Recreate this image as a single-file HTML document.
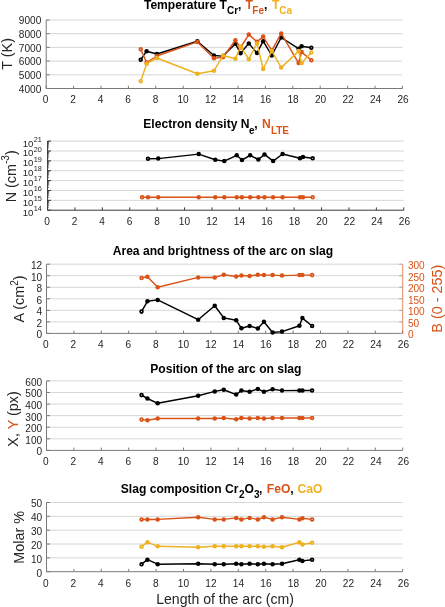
<!DOCTYPE html>
<html><head><meta charset="utf-8"><style>
html,body{margin:0;padding:0;background:#fff;}
body{width:445px;height:607px;overflow:hidden;}
svg{display:block;font-family:'Liberation Sans', sans-serif;will-change:transform;}
</style></head><body>
<svg width="445" height="607" viewBox="0 0 445 607">
<defs><filter id="bl" x="0" y="0" width="100%" height="100%"><feGaussianBlur stdDeviation="0.35"/></filter></defs>
<g filter="url(#bl)">
<rect x="0" y="0" width="445" height="607" fill="#fff"/>
<line x1="46.2" y1="20" x2="402.4" y2="20" stroke="#d6d6d6" stroke-width="1"/>
<line x1="46.2" y1="33.7" x2="402.4" y2="33.7" stroke="#d6d6d6" stroke-width="1"/>
<line x1="46.2" y1="47.4" x2="402.4" y2="47.4" stroke="#d6d6d6" stroke-width="1"/>
<line x1="46.2" y1="61.1" x2="402.4" y2="61.1" stroke="#d6d6d6" stroke-width="1"/>
<line x1="46.2" y1="74.8" x2="402.4" y2="74.8" stroke="#d6d6d6" stroke-width="1"/>
<path d="M46.2 20 L46.2 88.5 L402.4 88.5" fill="none" stroke="#7a7a7a" stroke-width="1"/>
<line x1="46.2" y1="88.5" x2="46.2" y2="85.7" stroke="#7a7a7a" stroke-width="1"/>
<line x1="73.6" y1="88.5" x2="73.6" y2="85.7" stroke="#7a7a7a" stroke-width="1"/>
<line x1="101" y1="88.5" x2="101" y2="85.7" stroke="#7a7a7a" stroke-width="1"/>
<line x1="128.4" y1="88.5" x2="128.4" y2="85.7" stroke="#7a7a7a" stroke-width="1"/>
<line x1="155.8" y1="88.5" x2="155.8" y2="85.7" stroke="#7a7a7a" stroke-width="1"/>
<line x1="183.2" y1="88.5" x2="183.2" y2="85.7" stroke="#7a7a7a" stroke-width="1"/>
<line x1="210.6" y1="88.5" x2="210.6" y2="85.7" stroke="#7a7a7a" stroke-width="1"/>
<line x1="238" y1="88.5" x2="238" y2="85.7" stroke="#7a7a7a" stroke-width="1"/>
<line x1="265.4" y1="88.5" x2="265.4" y2="85.7" stroke="#7a7a7a" stroke-width="1"/>
<line x1="292.8" y1="88.5" x2="292.8" y2="85.7" stroke="#7a7a7a" stroke-width="1"/>
<line x1="320.2" y1="88.5" x2="320.2" y2="85.7" stroke="#7a7a7a" stroke-width="1"/>
<line x1="347.6" y1="88.5" x2="347.6" y2="85.7" stroke="#7a7a7a" stroke-width="1"/>
<line x1="375" y1="88.5" x2="375" y2="85.7" stroke="#7a7a7a" stroke-width="1"/>
<line x1="402.4" y1="88.5" x2="402.4" y2="85.7" stroke="#7a7a7a" stroke-width="1"/>
<line x1="46.2" y1="20" x2="49.7" y2="20" stroke="#7a7a7a" stroke-width="1"/>
<line x1="46.2" y1="33.7" x2="49.7" y2="33.7" stroke="#7a7a7a" stroke-width="1"/>
<line x1="46.2" y1="47.4" x2="49.7" y2="47.4" stroke="#7a7a7a" stroke-width="1"/>
<line x1="46.2" y1="61.1" x2="49.7" y2="61.1" stroke="#7a7a7a" stroke-width="1"/>
<line x1="46.2" y1="74.8" x2="49.7" y2="74.8" stroke="#7a7a7a" stroke-width="1"/>
<line x1="46.2" y1="88.5" x2="49.7" y2="88.5" stroke="#7a7a7a" stroke-width="1"/>
<text x="45.6" y="103.4" text-anchor="middle" font-size="10.1" fill="#262626">0</text>
<text x="73.1" y="103.4" text-anchor="middle" font-size="10.1" fill="#262626">2</text>
<text x="100.6" y="103.4" text-anchor="middle" font-size="10.1" fill="#262626">4</text>
<text x="128.1" y="103.4" text-anchor="middle" font-size="10.1" fill="#262626">6</text>
<text x="155.6" y="103.4" text-anchor="middle" font-size="10.1" fill="#262626">8</text>
<text x="183.1" y="103.4" text-anchor="middle" font-size="10.1" fill="#262626">10</text>
<text x="210.6" y="103.4" text-anchor="middle" font-size="10.1" fill="#262626">12</text>
<text x="238.1" y="103.4" text-anchor="middle" font-size="10.1" fill="#262626">14</text>
<text x="265.6" y="103.4" text-anchor="middle" font-size="10.1" fill="#262626">16</text>
<text x="293.1" y="103.4" text-anchor="middle" font-size="10.1" fill="#262626">18</text>
<text x="320.6" y="103.4" text-anchor="middle" font-size="10.1" fill="#262626">20</text>
<text x="348.1" y="103.4" text-anchor="middle" font-size="10.1" fill="#262626">22</text>
<text x="375.6" y="103.4" text-anchor="middle" font-size="10.1" fill="#262626">24</text>
<text x="403.1" y="103.4" text-anchor="middle" font-size="10.1" fill="#262626">26</text>
<text x="41.3" y="24.3" text-anchor="end" font-size="10.1" fill="#262626">9000</text>
<text x="41.3" y="38" text-anchor="end" font-size="10.1" fill="#262626">8000</text>
<text x="41.3" y="51.7" text-anchor="end" font-size="10.1" fill="#262626">7000</text>
<text x="41.3" y="65.4" text-anchor="end" font-size="10.1" fill="#262626">6000</text>
<text x="41.3" y="79.1" text-anchor="end" font-size="10.1" fill="#262626">5000</text>
<text x="41.3" y="92.8" text-anchor="end" font-size="10.1" fill="#262626">4000</text>
<text y="8.6" font-size="12.1" font-weight="bold" fill="#000"><tspan x="143.9">Temperature T</tspan><tspan x="227.0" y="14.4" font-size="10">Cr</tspan><tspan x="238.0" y="8.6">,</tspan><tspan x="245.5" fill="#D95319">T</tspan><tspan x="252.3" y="14.4" font-size="10" fill="#D95319">Fe</tspan><tspan x="263.9" y="8.6">,</tspan><tspan x="272" fill="#EDB120">T</tspan><tspan x="279.2" y="14.4" font-size="10" fill="#EDB120">Ca</tspan></text>
<text transform="translate(11.9,53.9) rotate(-90)" text-anchor="middle" font-size="14.4" fill="#262626">T (K)</text>
<path d="M140.73 59.7 L146.61 51.2 L156.87 54 L197.36 41.3 L213.92 55.5 L222.95 56.1 L235.39 43.7 L240.59 53.3 L248.8 43.4 L257.01 53.1 L263.16 41.2 L271.78 55.5 L281.22 37.5 L298.6 48.7 L301.61 46.3 L311.32 47.7" fill="none" stroke="#000000" stroke-width="1.45" stroke-linejoin="round"/>
<circle cx="140.73" cy="59.7" r="1.4" fill="#fff" stroke="#000000" stroke-width="1.75"/>
<circle cx="146.61" cy="51.2" r="2.25" fill="#000000"/>
<circle cx="156.87" cy="54" r="2.25" fill="#000000"/>
<circle cx="197.36" cy="41.3" r="2.25" fill="#000000"/>
<circle cx="213.92" cy="55.5" r="2.25" fill="#000000"/>
<circle cx="222.95" cy="56.1" r="2.25" fill="#000000"/>
<circle cx="235.39" cy="43.7" r="2.25" fill="#000000"/>
<circle cx="240.59" cy="53.3" r="2.25" fill="#000000"/>
<circle cx="248.8" cy="43.4" r="2.25" fill="#000000"/>
<circle cx="257.01" cy="53.1" r="2.25" fill="#000000"/>
<circle cx="263.16" cy="41.2" r="2.25" fill="#000000"/>
<circle cx="271.78" cy="55.5" r="2.25" fill="#000000"/>
<circle cx="281.22" cy="37.5" r="2.25" fill="#000000"/>
<circle cx="298.6" cy="48.7" r="2.25" fill="#000000"/>
<circle cx="301.61" cy="46.3" r="2.25" fill="#000000"/>
<circle cx="311.32" cy="47.7" r="1.4" fill="#fff" stroke="#000000" stroke-width="1.75"/>
<path d="M140.73 49.3 L146.61 62.5 L156.87 56 L197.36 41.9 L213.92 58.2 L222.95 57.3 L235.39 40.3 L240.59 47.5 L248.8 34.6 L257.01 41.7 L263.16 36.6 L271.78 50.6 L281.22 33.4 L298.6 63.1 L301.61 52.1 L311.32 60.3" fill="none" stroke="#D95319" stroke-width="1.45" stroke-linejoin="round"/>
<circle cx="140.73" cy="49.3" r="1.4" fill="#fff" stroke="#D95319" stroke-width="1.75"/>
<circle cx="146.61" cy="62.5" r="2.25" fill="#D95319"/>
<circle cx="156.87" cy="56" r="2.25" fill="#D95319"/>
<circle cx="197.36" cy="41.9" r="2.25" fill="#D95319"/>
<circle cx="213.92" cy="58.2" r="2.25" fill="#D95319"/>
<circle cx="222.95" cy="57.3" r="2.25" fill="#D95319"/>
<circle cx="235.39" cy="40.3" r="2.25" fill="#D95319"/>
<circle cx="240.59" cy="47.5" r="2.25" fill="#D95319"/>
<circle cx="248.8" cy="34.6" r="2.25" fill="#D95319"/>
<circle cx="257.01" cy="41.7" r="2.25" fill="#D95319"/>
<circle cx="263.16" cy="36.6" r="2.25" fill="#D95319"/>
<circle cx="271.78" cy="50.6" r="2.25" fill="#D95319"/>
<circle cx="281.22" cy="33.4" r="2.25" fill="#D95319"/>
<circle cx="298.6" cy="63.1" r="2.25" fill="#D95319"/>
<circle cx="301.61" cy="52.1" r="2.25" fill="#D95319"/>
<circle cx="311.32" cy="60.3" r="1.4" fill="#fff" stroke="#D95319" stroke-width="1.75"/>
<path d="M140.73 81.2 L146.61 63.7 L156.87 58 L197.36 73.8 L213.92 70.8 L222.95 55.5 L235.39 58.7 L240.59 46.6 L248.8 59.2 L257.01 43.4 L263.16 69 L271.78 51 L281.22 67.6 L298.6 51.1 L301.61 62.9 L311.32 52.4" fill="none" stroke="#EDB120" stroke-width="1.45" stroke-linejoin="round"/>
<circle cx="140.73" cy="81.2" r="1.4" fill="#fff" stroke="#EDB120" stroke-width="1.75"/>
<circle cx="146.61" cy="63.7" r="2.25" fill="#EDB120"/>
<circle cx="156.87" cy="58" r="2.25" fill="#EDB120"/>
<circle cx="197.36" cy="73.8" r="2.25" fill="#EDB120"/>
<circle cx="213.92" cy="70.8" r="2.25" fill="#EDB120"/>
<circle cx="222.95" cy="55.5" r="2.25" fill="#EDB120"/>
<circle cx="235.39" cy="58.7" r="2.25" fill="#EDB120"/>
<circle cx="240.59" cy="46.6" r="2.25" fill="#EDB120"/>
<circle cx="248.8" cy="59.2" r="2.25" fill="#EDB120"/>
<circle cx="257.01" cy="43.4" r="2.25" fill="#EDB120"/>
<circle cx="263.16" cy="69" r="2.25" fill="#EDB120"/>
<circle cx="271.78" cy="51" r="2.25" fill="#EDB120"/>
<circle cx="281.22" cy="67.6" r="2.25" fill="#EDB120"/>
<circle cx="298.6" cy="51.1" r="2.25" fill="#EDB120"/>
<circle cx="301.61" cy="62.9" r="2.25" fill="#EDB120"/>
<circle cx="311.32" cy="52.4" r="1.4" fill="#fff" stroke="#EDB120" stroke-width="1.75"/>
<line x1="47.55" y1="141.1" x2="403.75" y2="141.1" stroke="#d6d6d6" stroke-width="1"/>
<line x1="47.55" y1="150.97" x2="403.75" y2="150.97" stroke="#d6d6d6" stroke-width="1"/>
<line x1="47.55" y1="160.84" x2="403.75" y2="160.84" stroke="#d6d6d6" stroke-width="1"/>
<line x1="47.55" y1="170.71" x2="403.75" y2="170.71" stroke="#d6d6d6" stroke-width="1"/>
<line x1="47.55" y1="180.59" x2="403.75" y2="180.59" stroke="#d6d6d6" stroke-width="1"/>
<line x1="47.55" y1="190.46" x2="403.75" y2="190.46" stroke="#d6d6d6" stroke-width="1"/>
<line x1="47.55" y1="200.33" x2="403.75" y2="200.33" stroke="#d6d6d6" stroke-width="1"/>
<path d="M47.55 141.1 L47.55 210.2 L403.75 210.2" fill="none" stroke="#3a3a3a" stroke-width="1"/>
<line x1="47.55" y1="210.2" x2="47.55" y2="207.4" stroke="#3a3a3a" stroke-width="1"/>
<line x1="74.95" y1="210.2" x2="74.95" y2="207.4" stroke="#3a3a3a" stroke-width="1"/>
<line x1="102.35" y1="210.2" x2="102.35" y2="207.4" stroke="#3a3a3a" stroke-width="1"/>
<line x1="129.75" y1="210.2" x2="129.75" y2="207.4" stroke="#3a3a3a" stroke-width="1"/>
<line x1="157.15" y1="210.2" x2="157.15" y2="207.4" stroke="#3a3a3a" stroke-width="1"/>
<line x1="184.55" y1="210.2" x2="184.55" y2="207.4" stroke="#3a3a3a" stroke-width="1"/>
<line x1="211.95" y1="210.2" x2="211.95" y2="207.4" stroke="#3a3a3a" stroke-width="1"/>
<line x1="239.35" y1="210.2" x2="239.35" y2="207.4" stroke="#3a3a3a" stroke-width="1"/>
<line x1="266.75" y1="210.2" x2="266.75" y2="207.4" stroke="#3a3a3a" stroke-width="1"/>
<line x1="294.15" y1="210.2" x2="294.15" y2="207.4" stroke="#3a3a3a" stroke-width="1"/>
<line x1="321.55" y1="210.2" x2="321.55" y2="207.4" stroke="#3a3a3a" stroke-width="1"/>
<line x1="348.95" y1="210.2" x2="348.95" y2="207.4" stroke="#3a3a3a" stroke-width="1"/>
<line x1="376.35" y1="210.2" x2="376.35" y2="207.4" stroke="#3a3a3a" stroke-width="1"/>
<line x1="403.75" y1="210.2" x2="403.75" y2="207.4" stroke="#3a3a3a" stroke-width="1"/>
<line x1="47.55" y1="141.1" x2="51.05" y2="141.1" stroke="#3a3a3a" stroke-width="1"/>
<line x1="47.55" y1="150.97" x2="51.05" y2="150.97" stroke="#3a3a3a" stroke-width="1"/>
<line x1="47.55" y1="160.84" x2="51.05" y2="160.84" stroke="#3a3a3a" stroke-width="1"/>
<line x1="47.55" y1="170.71" x2="51.05" y2="170.71" stroke="#3a3a3a" stroke-width="1"/>
<line x1="47.55" y1="180.59" x2="51.05" y2="180.59" stroke="#3a3a3a" stroke-width="1"/>
<line x1="47.55" y1="190.46" x2="51.05" y2="190.46" stroke="#3a3a3a" stroke-width="1"/>
<line x1="47.55" y1="200.33" x2="51.05" y2="200.33" stroke="#3a3a3a" stroke-width="1"/>
<line x1="47.55" y1="210.2" x2="51.05" y2="210.2" stroke="#3a3a3a" stroke-width="1"/>
<line x1="47.55" y1="207.23" x2="49.15" y2="207.23" stroke="#3a3a3a" stroke-width="0.6"/>
<line x1="47.55" y1="205.49" x2="49.15" y2="205.49" stroke="#3a3a3a" stroke-width="0.6"/>
<line x1="47.55" y1="204.26" x2="49.15" y2="204.26" stroke="#3a3a3a" stroke-width="0.6"/>
<line x1="47.55" y1="203.3" x2="49.15" y2="203.3" stroke="#3a3a3a" stroke-width="0.6"/>
<line x1="47.55" y1="202.52" x2="49.15" y2="202.52" stroke="#3a3a3a" stroke-width="0.6"/>
<line x1="47.55" y1="201.86" x2="49.15" y2="201.86" stroke="#3a3a3a" stroke-width="0.6"/>
<line x1="47.55" y1="201.29" x2="49.15" y2="201.29" stroke="#3a3a3a" stroke-width="0.6"/>
<line x1="47.55" y1="200.78" x2="49.15" y2="200.78" stroke="#3a3a3a" stroke-width="0.6"/>
<line x1="47.55" y1="197.36" x2="49.15" y2="197.36" stroke="#3a3a3a" stroke-width="0.6"/>
<line x1="47.55" y1="195.62" x2="49.15" y2="195.62" stroke="#3a3a3a" stroke-width="0.6"/>
<line x1="47.55" y1="194.39" x2="49.15" y2="194.39" stroke="#3a3a3a" stroke-width="0.6"/>
<line x1="47.55" y1="193.43" x2="49.15" y2="193.43" stroke="#3a3a3a" stroke-width="0.6"/>
<line x1="47.55" y1="192.65" x2="49.15" y2="192.65" stroke="#3a3a3a" stroke-width="0.6"/>
<line x1="47.55" y1="191.99" x2="49.15" y2="191.99" stroke="#3a3a3a" stroke-width="0.6"/>
<line x1="47.55" y1="191.41" x2="49.15" y2="191.41" stroke="#3a3a3a" stroke-width="0.6"/>
<line x1="47.55" y1="190.91" x2="49.15" y2="190.91" stroke="#3a3a3a" stroke-width="0.6"/>
<line x1="47.55" y1="187.49" x2="49.15" y2="187.49" stroke="#3a3a3a" stroke-width="0.6"/>
<line x1="47.55" y1="185.75" x2="49.15" y2="185.75" stroke="#3a3a3a" stroke-width="0.6"/>
<line x1="47.55" y1="184.51" x2="49.15" y2="184.51" stroke="#3a3a3a" stroke-width="0.6"/>
<line x1="47.55" y1="183.56" x2="49.15" y2="183.56" stroke="#3a3a3a" stroke-width="0.6"/>
<line x1="47.55" y1="182.78" x2="49.15" y2="182.78" stroke="#3a3a3a" stroke-width="0.6"/>
<line x1="47.55" y1="182.11" x2="49.15" y2="182.11" stroke="#3a3a3a" stroke-width="0.6"/>
<line x1="47.55" y1="181.54" x2="49.15" y2="181.54" stroke="#3a3a3a" stroke-width="0.6"/>
<line x1="47.55" y1="181.04" x2="49.15" y2="181.04" stroke="#3a3a3a" stroke-width="0.6"/>
<line x1="47.55" y1="177.61" x2="49.15" y2="177.61" stroke="#3a3a3a" stroke-width="0.6"/>
<line x1="47.55" y1="175.88" x2="49.15" y2="175.88" stroke="#3a3a3a" stroke-width="0.6"/>
<line x1="47.55" y1="174.64" x2="49.15" y2="174.64" stroke="#3a3a3a" stroke-width="0.6"/>
<line x1="47.55" y1="173.69" x2="49.15" y2="173.69" stroke="#3a3a3a" stroke-width="0.6"/>
<line x1="47.55" y1="172.9" x2="49.15" y2="172.9" stroke="#3a3a3a" stroke-width="0.6"/>
<line x1="47.55" y1="172.24" x2="49.15" y2="172.24" stroke="#3a3a3a" stroke-width="0.6"/>
<line x1="47.55" y1="171.67" x2="49.15" y2="171.67" stroke="#3a3a3a" stroke-width="0.6"/>
<line x1="47.55" y1="171.17" x2="49.15" y2="171.17" stroke="#3a3a3a" stroke-width="0.6"/>
<line x1="47.55" y1="167.74" x2="49.15" y2="167.74" stroke="#3a3a3a" stroke-width="0.6"/>
<line x1="47.55" y1="166" x2="49.15" y2="166" stroke="#3a3a3a" stroke-width="0.6"/>
<line x1="47.55" y1="164.77" x2="49.15" y2="164.77" stroke="#3a3a3a" stroke-width="0.6"/>
<line x1="47.55" y1="163.81" x2="49.15" y2="163.81" stroke="#3a3a3a" stroke-width="0.6"/>
<line x1="47.55" y1="163.03" x2="49.15" y2="163.03" stroke="#3a3a3a" stroke-width="0.6"/>
<line x1="47.55" y1="162.37" x2="49.15" y2="162.37" stroke="#3a3a3a" stroke-width="0.6"/>
<line x1="47.55" y1="161.8" x2="49.15" y2="161.8" stroke="#3a3a3a" stroke-width="0.6"/>
<line x1="47.55" y1="161.29" x2="49.15" y2="161.29" stroke="#3a3a3a" stroke-width="0.6"/>
<line x1="47.55" y1="157.87" x2="49.15" y2="157.87" stroke="#3a3a3a" stroke-width="0.6"/>
<line x1="47.55" y1="156.13" x2="49.15" y2="156.13" stroke="#3a3a3a" stroke-width="0.6"/>
<line x1="47.55" y1="154.9" x2="49.15" y2="154.9" stroke="#3a3a3a" stroke-width="0.6"/>
<line x1="47.55" y1="153.94" x2="49.15" y2="153.94" stroke="#3a3a3a" stroke-width="0.6"/>
<line x1="47.55" y1="153.16" x2="49.15" y2="153.16" stroke="#3a3a3a" stroke-width="0.6"/>
<line x1="47.55" y1="152.5" x2="49.15" y2="152.5" stroke="#3a3a3a" stroke-width="0.6"/>
<line x1="47.55" y1="151.93" x2="49.15" y2="151.93" stroke="#3a3a3a" stroke-width="0.6"/>
<line x1="47.55" y1="151.42" x2="49.15" y2="151.42" stroke="#3a3a3a" stroke-width="0.6"/>
<line x1="47.55" y1="148" x2="49.15" y2="148" stroke="#3a3a3a" stroke-width="0.6"/>
<line x1="47.55" y1="146.26" x2="49.15" y2="146.26" stroke="#3a3a3a" stroke-width="0.6"/>
<line x1="47.55" y1="145.03" x2="49.15" y2="145.03" stroke="#3a3a3a" stroke-width="0.6"/>
<line x1="47.55" y1="144.07" x2="49.15" y2="144.07" stroke="#3a3a3a" stroke-width="0.6"/>
<line x1="47.55" y1="143.29" x2="49.15" y2="143.29" stroke="#3a3a3a" stroke-width="0.6"/>
<line x1="47.55" y1="142.63" x2="49.15" y2="142.63" stroke="#3a3a3a" stroke-width="0.6"/>
<line x1="47.55" y1="142.06" x2="49.15" y2="142.06" stroke="#3a3a3a" stroke-width="0.6"/>
<line x1="47.55" y1="141.55" x2="49.15" y2="141.55" stroke="#3a3a3a" stroke-width="0.6"/>
<text x="46.95" y="225.1" text-anchor="middle" font-size="10.1" fill="#262626">0</text>
<text x="74.45" y="225.1" text-anchor="middle" font-size="10.1" fill="#262626">2</text>
<text x="101.95" y="225.1" text-anchor="middle" font-size="10.1" fill="#262626">4</text>
<text x="129.45" y="225.1" text-anchor="middle" font-size="10.1" fill="#262626">6</text>
<text x="156.95" y="225.1" text-anchor="middle" font-size="10.1" fill="#262626">8</text>
<text x="184.45" y="225.1" text-anchor="middle" font-size="10.1" fill="#262626">10</text>
<text x="211.95" y="225.1" text-anchor="middle" font-size="10.1" fill="#262626">12</text>
<text x="239.45" y="225.1" text-anchor="middle" font-size="10.1" fill="#262626">14</text>
<text x="266.95" y="225.1" text-anchor="middle" font-size="10.1" fill="#262626">16</text>
<text x="294.45" y="225.1" text-anchor="middle" font-size="10.1" fill="#262626">18</text>
<text x="321.95" y="225.1" text-anchor="middle" font-size="10.1" fill="#262626">20</text>
<text x="349.45" y="225.1" text-anchor="middle" font-size="10.1" fill="#262626">22</text>
<text x="376.95" y="225.1" text-anchor="middle" font-size="10.1" fill="#262626">24</text>
<text x="404.45" y="225.1" text-anchor="middle" font-size="10.1" fill="#262626">26</text>
<text x="33.35" y="146.6" text-anchor="end" font-size="9.6" fill="#262626">10</text>
<text x="33.65" y="141.8" font-size="7.3" fill="#262626">21</text>
<text x="33.35" y="156.47" text-anchor="end" font-size="9.6" fill="#262626">10</text>
<text x="33.65" y="151.67" font-size="7.3" fill="#262626">20</text>
<text x="33.35" y="166.34" text-anchor="end" font-size="9.6" fill="#262626">10</text>
<text x="33.65" y="161.54" font-size="7.3" fill="#262626">19</text>
<text x="33.35" y="176.21" text-anchor="end" font-size="9.6" fill="#262626">10</text>
<text x="33.65" y="171.41" font-size="7.3" fill="#262626">18</text>
<text x="33.35" y="186.09" text-anchor="end" font-size="9.6" fill="#262626">10</text>
<text x="33.65" y="181.29" font-size="7.3" fill="#262626">17</text>
<text x="33.35" y="195.96" text-anchor="end" font-size="9.6" fill="#262626">10</text>
<text x="33.65" y="191.16" font-size="7.3" fill="#262626">16</text>
<text x="33.35" y="205.83" text-anchor="end" font-size="9.6" fill="#262626">10</text>
<text x="33.65" y="201.03" font-size="7.3" fill="#262626">15</text>
<text x="33.35" y="215.7" text-anchor="end" font-size="9.6" fill="#262626">10</text>
<text x="33.65" y="210.9" font-size="7.3" fill="#262626">14</text>
<text y="128.3" font-size="12.1" font-weight="bold" fill="#000"><tspan x="143.3">Electron density N</tspan><tspan x="249.0" y="134" font-size="10">e</tspan><tspan x="254.3" y="128.3">,</tspan><tspan x="262" fill="#D95319">N</tspan><tspan x="270.9" y="134" font-size="10" fill="#D95319">LTE</tspan></text>
<text transform="translate(15.6,176.3) rotate(-90)" text-anchor="middle" font-size="14.4" fill="#262626">N (cm<tspan dy="-6.8" font-size="10">-3</tspan><tspan dy="6.8">)</tspan></text>
<path d="M142.08 197.3 L147.96 197.3 L158.22 197.3 L198.71 197.3 L215.27 197.3 L224.3 197.3 L236.74 197.3 L241.94 197.3 L250.15 197.3 L258.36 197.3 L264.51 197.3 L273.13 197.3 L282.57 197.3 L299.95 197.3 L302.96 197.3 L312.67 197.3" fill="none" stroke="#D95319" stroke-width="1.45" stroke-linejoin="round"/>
<circle cx="142.08" cy="197.3" r="1.4" fill="#fff" stroke="#D95319" stroke-width="1.75"/>
<circle cx="147.96" cy="197.3" r="2.25" fill="#D95319"/>
<circle cx="158.22" cy="197.3" r="2.25" fill="#D95319"/>
<circle cx="198.71" cy="197.3" r="2.25" fill="#D95319"/>
<circle cx="215.27" cy="197.3" r="2.25" fill="#D95319"/>
<circle cx="224.3" cy="197.3" r="2.25" fill="#D95319"/>
<circle cx="236.74" cy="197.3" r="2.25" fill="#D95319"/>
<circle cx="241.94" cy="197.3" r="2.25" fill="#D95319"/>
<circle cx="250.15" cy="197.3" r="2.25" fill="#D95319"/>
<circle cx="258.36" cy="197.3" r="2.25" fill="#D95319"/>
<circle cx="264.51" cy="197.3" r="2.25" fill="#D95319"/>
<circle cx="273.13" cy="197.3" r="2.25" fill="#D95319"/>
<circle cx="282.57" cy="197.3" r="2.25" fill="#D95319"/>
<circle cx="299.95" cy="197.3" r="2.25" fill="#D95319"/>
<circle cx="302.96" cy="197.3" r="2.25" fill="#D95319"/>
<circle cx="312.67" cy="197.3" r="1.4" fill="#fff" stroke="#D95319" stroke-width="1.75"/>
<path d="M147.96 158.7 L158.22 158.6 L198.71 154.1 L215.27 159.8 L224.3 161.1 L236.74 155.3 L241.94 160 L250.15 155.3 L258.36 159.5 L264.51 154.4 L273.13 161.1 L282.57 154 L299.95 158.2 L302.96 157 L312.67 158.2" fill="none" stroke="#000000" stroke-width="1.45" stroke-linejoin="round"/>
<circle cx="147.96" cy="158.7" r="1.4" fill="#fff" stroke="#000000" stroke-width="1.75"/>
<circle cx="158.22" cy="158.6" r="2.25" fill="#000000"/>
<circle cx="198.71" cy="154.1" r="2.25" fill="#000000"/>
<circle cx="215.27" cy="159.8" r="2.25" fill="#000000"/>
<circle cx="224.3" cy="161.1" r="2.25" fill="#000000"/>
<circle cx="236.74" cy="155.3" r="2.25" fill="#000000"/>
<circle cx="241.94" cy="160" r="2.25" fill="#000000"/>
<circle cx="250.15" cy="155.3" r="2.25" fill="#000000"/>
<circle cx="258.36" cy="159.5" r="2.25" fill="#000000"/>
<circle cx="264.51" cy="154.4" r="2.25" fill="#000000"/>
<circle cx="273.13" cy="161.1" r="2.25" fill="#000000"/>
<circle cx="282.57" cy="154" r="2.25" fill="#000000"/>
<circle cx="299.95" cy="158.2" r="2.25" fill="#000000"/>
<circle cx="302.96" cy="157" r="2.25" fill="#000000"/>
<circle cx="312.67" cy="158.2" r="1.4" fill="#fff" stroke="#000000" stroke-width="1.75"/>
<line x1="46.5" y1="264.2" x2="402.7" y2="264.2" stroke="#d6d6d6" stroke-width="1"/>
<line x1="46.5" y1="275.73" x2="402.7" y2="275.73" stroke="#d6d6d6" stroke-width="1"/>
<line x1="46.5" y1="287.27" x2="402.7" y2="287.27" stroke="#d6d6d6" stroke-width="1"/>
<line x1="46.5" y1="298.8" x2="402.7" y2="298.8" stroke="#d6d6d6" stroke-width="1"/>
<line x1="46.5" y1="310.33" x2="402.7" y2="310.33" stroke="#d6d6d6" stroke-width="1"/>
<line x1="46.5" y1="321.87" x2="402.7" y2="321.87" stroke="#d6d6d6" stroke-width="1"/>
<path d="M46.5 264.2 L46.5 333.4 L402.7 333.4" fill="none" stroke="#7a7a7a" stroke-width="1"/>
<line x1="46.5" y1="333.4" x2="46.5" y2="330.6" stroke="#7a7a7a" stroke-width="1"/>
<line x1="73.9" y1="333.4" x2="73.9" y2="330.6" stroke="#7a7a7a" stroke-width="1"/>
<line x1="101.3" y1="333.4" x2="101.3" y2="330.6" stroke="#7a7a7a" stroke-width="1"/>
<line x1="128.7" y1="333.4" x2="128.7" y2="330.6" stroke="#7a7a7a" stroke-width="1"/>
<line x1="156.1" y1="333.4" x2="156.1" y2="330.6" stroke="#7a7a7a" stroke-width="1"/>
<line x1="183.5" y1="333.4" x2="183.5" y2="330.6" stroke="#7a7a7a" stroke-width="1"/>
<line x1="210.9" y1="333.4" x2="210.9" y2="330.6" stroke="#7a7a7a" stroke-width="1"/>
<line x1="238.3" y1="333.4" x2="238.3" y2="330.6" stroke="#7a7a7a" stroke-width="1"/>
<line x1="265.7" y1="333.4" x2="265.7" y2="330.6" stroke="#7a7a7a" stroke-width="1"/>
<line x1="293.1" y1="333.4" x2="293.1" y2="330.6" stroke="#7a7a7a" stroke-width="1"/>
<line x1="320.5" y1="333.4" x2="320.5" y2="330.6" stroke="#7a7a7a" stroke-width="1"/>
<line x1="347.9" y1="333.4" x2="347.9" y2="330.6" stroke="#7a7a7a" stroke-width="1"/>
<line x1="375.3" y1="333.4" x2="375.3" y2="330.6" stroke="#7a7a7a" stroke-width="1"/>
<line x1="402.7" y1="333.4" x2="402.7" y2="330.6" stroke="#7a7a7a" stroke-width="1"/>
<line x1="46.5" y1="264.2" x2="50" y2="264.2" stroke="#7a7a7a" stroke-width="1"/>
<line x1="46.5" y1="275.73" x2="50" y2="275.73" stroke="#7a7a7a" stroke-width="1"/>
<line x1="46.5" y1="287.27" x2="50" y2="287.27" stroke="#7a7a7a" stroke-width="1"/>
<line x1="46.5" y1="298.8" x2="50" y2="298.8" stroke="#7a7a7a" stroke-width="1"/>
<line x1="46.5" y1="310.33" x2="50" y2="310.33" stroke="#7a7a7a" stroke-width="1"/>
<line x1="46.5" y1="321.87" x2="50" y2="321.87" stroke="#7a7a7a" stroke-width="1"/>
<line x1="46.5" y1="333.4" x2="50" y2="333.4" stroke="#7a7a7a" stroke-width="1"/>
<text x="45.9" y="348.3" text-anchor="middle" font-size="10.1" fill="#262626">0</text>
<text x="73.4" y="348.3" text-anchor="middle" font-size="10.1" fill="#262626">2</text>
<text x="100.9" y="348.3" text-anchor="middle" font-size="10.1" fill="#262626">4</text>
<text x="128.4" y="348.3" text-anchor="middle" font-size="10.1" fill="#262626">6</text>
<text x="155.9" y="348.3" text-anchor="middle" font-size="10.1" fill="#262626">8</text>
<text x="183.4" y="348.3" text-anchor="middle" font-size="10.1" fill="#262626">10</text>
<text x="210.9" y="348.3" text-anchor="middle" font-size="10.1" fill="#262626">12</text>
<text x="238.4" y="348.3" text-anchor="middle" font-size="10.1" fill="#262626">14</text>
<text x="265.9" y="348.3" text-anchor="middle" font-size="10.1" fill="#262626">16</text>
<text x="293.4" y="348.3" text-anchor="middle" font-size="10.1" fill="#262626">18</text>
<text x="320.9" y="348.3" text-anchor="middle" font-size="10.1" fill="#262626">20</text>
<text x="348.4" y="348.3" text-anchor="middle" font-size="10.1" fill="#262626">22</text>
<text x="375.9" y="348.3" text-anchor="middle" font-size="10.1" fill="#262626">24</text>
<text x="403.4" y="348.3" text-anchor="middle" font-size="10.1" fill="#262626">26</text>
<text x="42.2" y="269.1" text-anchor="end" font-size="10.1" fill="#262626">12</text>
<text x="42.2" y="280.63" text-anchor="end" font-size="10.1" fill="#262626">10</text>
<text x="42.2" y="292.17" text-anchor="end" font-size="10.1" fill="#262626">8</text>
<text x="42.2" y="303.7" text-anchor="end" font-size="10.1" fill="#262626">6</text>
<text x="42.2" y="315.23" text-anchor="end" font-size="10.1" fill="#262626">4</text>
<text x="42.2" y="326.77" text-anchor="end" font-size="10.1" fill="#262626">2</text>
<text x="42.2" y="338.3" text-anchor="end" font-size="10.1" fill="#262626">0</text>
<line x1="402.7" y1="264.2" x2="402.7" y2="333.4" stroke="#D95319" stroke-width="0.8" stroke-opacity="0.85"/>
<line x1="402.3" y1="264.2" x2="399.2" y2="264.2" stroke="#a8a8a8" stroke-width="1"/>
<text x="407.9" y="269.1" font-size="10.1" fill="#D95319">300</text>
<line x1="402.3" y1="275.73" x2="399.2" y2="275.73" stroke="#a8a8a8" stroke-width="1"/>
<text x="407.9" y="280.63" font-size="10.1" fill="#D95319">250</text>
<line x1="402.3" y1="287.27" x2="399.2" y2="287.27" stroke="#a8a8a8" stroke-width="1"/>
<text x="407.9" y="292.17" font-size="10.1" fill="#D95319">200</text>
<line x1="402.3" y1="298.8" x2="399.2" y2="298.8" stroke="#a8a8a8" stroke-width="1"/>
<text x="407.9" y="303.7" font-size="10.1" fill="#D95319">150</text>
<line x1="402.3" y1="310.33" x2="399.2" y2="310.33" stroke="#a8a8a8" stroke-width="1"/>
<text x="407.9" y="315.23" font-size="10.1" fill="#D95319">100</text>
<line x1="402.3" y1="321.87" x2="399.2" y2="321.87" stroke="#a8a8a8" stroke-width="1"/>
<text x="407.9" y="326.77" font-size="10.1" fill="#D95319">50</text>
<line x1="402.3" y1="333.4" x2="399.2" y2="333.4" stroke="#a8a8a8" stroke-width="1"/>
<text x="407.9" y="338.3" font-size="10.1" fill="#D95319">0</text>
<text x="112.7" y="254.8" font-size="12.1" font-weight="bold" fill="#000">Area and brightness of the arc on slag</text>
<text transform="translate(24.3,299.0) rotate(-90)" text-anchor="middle" font-size="14.4" fill="#262626">A (cm<tspan dy="-6.8" font-size="10">2</tspan><tspan dy="6.8">)</tspan></text>
<text transform="translate(442.1,298.7) rotate(-90)" text-anchor="middle" font-size="14.4" fill="#D95319">B (0 - 255)</text>
<path d="M141.53 311.6 L147.41 301.3 L157.67 299.9 L198.16 319.7 L214.72 305.8 L223.75 317.9 L236.19 320.3 L241.39 328.2 L249.6 326 L257.81 328.4 L263.96 321.7 L272.58 332.5 L282.02 331.6 L299.4 325.7 L302.41 318.1 L312.12 326" fill="none" stroke="#000000" stroke-width="1.45" stroke-linejoin="round"/>
<circle cx="141.53" cy="311.6" r="1.4" fill="#fff" stroke="#000000" stroke-width="1.75"/>
<circle cx="147.41" cy="301.3" r="2.25" fill="#000000"/>
<circle cx="157.67" cy="299.9" r="2.25" fill="#000000"/>
<circle cx="198.16" cy="319.7" r="2.25" fill="#000000"/>
<circle cx="214.72" cy="305.8" r="2.25" fill="#000000"/>
<circle cx="223.75" cy="317.9" r="2.25" fill="#000000"/>
<circle cx="236.19" cy="320.3" r="2.25" fill="#000000"/>
<circle cx="241.39" cy="328.2" r="2.25" fill="#000000"/>
<circle cx="249.6" cy="326" r="2.25" fill="#000000"/>
<circle cx="257.81" cy="328.4" r="2.25" fill="#000000"/>
<circle cx="263.96" cy="321.7" r="2.25" fill="#000000"/>
<circle cx="272.58" cy="332.5" r="2.25" fill="#000000"/>
<circle cx="282.02" cy="331.6" r="2.25" fill="#000000"/>
<circle cx="299.4" cy="325.7" r="2.25" fill="#000000"/>
<circle cx="302.41" cy="318.1" r="2.25" fill="#000000"/>
<circle cx="312.12" cy="326" r="1.4" fill="#fff" stroke="#000000" stroke-width="1.75"/>
<path d="M141.53 277.9 L147.41 276.7 L157.67 287.3 L198.16 277.4 L214.72 277.4 L223.75 274.7 L236.19 276.5 L241.39 275.5 L249.6 276 L257.81 274.8 L263.96 275.1 L272.58 275.1 L282.02 275.6 L299.4 275.1 L302.41 275.1 L312.12 275.1" fill="none" stroke="#D95319" stroke-width="1.45" stroke-linejoin="round"/>
<circle cx="141.53" cy="277.9" r="1.4" fill="#fff" stroke="#D95319" stroke-width="1.75"/>
<circle cx="147.41" cy="276.7" r="2.25" fill="#D95319"/>
<circle cx="157.67" cy="287.3" r="2.25" fill="#D95319"/>
<circle cx="198.16" cy="277.4" r="2.25" fill="#D95319"/>
<circle cx="214.72" cy="277.4" r="2.25" fill="#D95319"/>
<circle cx="223.75" cy="274.7" r="2.25" fill="#D95319"/>
<circle cx="236.19" cy="276.5" r="2.25" fill="#D95319"/>
<circle cx="241.39" cy="275.5" r="2.25" fill="#D95319"/>
<circle cx="249.6" cy="276" r="2.25" fill="#D95319"/>
<circle cx="257.81" cy="274.8" r="2.25" fill="#D95319"/>
<circle cx="263.96" cy="275.1" r="2.25" fill="#D95319"/>
<circle cx="272.58" cy="275.1" r="2.25" fill="#D95319"/>
<circle cx="282.02" cy="275.6" r="2.25" fill="#D95319"/>
<circle cx="299.4" cy="275.1" r="2.25" fill="#D95319"/>
<circle cx="302.41" cy="275.1" r="2.25" fill="#D95319"/>
<circle cx="312.12" cy="275.1" r="1.4" fill="#fff" stroke="#D95319" stroke-width="1.75"/>
<line x1="46.5" y1="380.9" x2="402.7" y2="380.9" stroke="#d6d6d6" stroke-width="1"/>
<line x1="46.5" y1="392.48" x2="402.7" y2="392.48" stroke="#d6d6d6" stroke-width="1"/>
<line x1="46.5" y1="404.07" x2="402.7" y2="404.07" stroke="#d6d6d6" stroke-width="1"/>
<line x1="46.5" y1="415.65" x2="402.7" y2="415.65" stroke="#d6d6d6" stroke-width="1"/>
<line x1="46.5" y1="427.23" x2="402.7" y2="427.23" stroke="#d6d6d6" stroke-width="1"/>
<line x1="46.5" y1="438.82" x2="402.7" y2="438.82" stroke="#d6d6d6" stroke-width="1"/>
<path d="M46.5 380.9 L46.5 450.4 L402.7 450.4" fill="none" stroke="#7a7a7a" stroke-width="1"/>
<line x1="46.5" y1="450.4" x2="46.5" y2="447.6" stroke="#7a7a7a" stroke-width="1"/>
<line x1="73.9" y1="450.4" x2="73.9" y2="447.6" stroke="#7a7a7a" stroke-width="1"/>
<line x1="101.3" y1="450.4" x2="101.3" y2="447.6" stroke="#7a7a7a" stroke-width="1"/>
<line x1="128.7" y1="450.4" x2="128.7" y2="447.6" stroke="#7a7a7a" stroke-width="1"/>
<line x1="156.1" y1="450.4" x2="156.1" y2="447.6" stroke="#7a7a7a" stroke-width="1"/>
<line x1="183.5" y1="450.4" x2="183.5" y2="447.6" stroke="#7a7a7a" stroke-width="1"/>
<line x1="210.9" y1="450.4" x2="210.9" y2="447.6" stroke="#7a7a7a" stroke-width="1"/>
<line x1="238.3" y1="450.4" x2="238.3" y2="447.6" stroke="#7a7a7a" stroke-width="1"/>
<line x1="265.7" y1="450.4" x2="265.7" y2="447.6" stroke="#7a7a7a" stroke-width="1"/>
<line x1="293.1" y1="450.4" x2="293.1" y2="447.6" stroke="#7a7a7a" stroke-width="1"/>
<line x1="320.5" y1="450.4" x2="320.5" y2="447.6" stroke="#7a7a7a" stroke-width="1"/>
<line x1="347.9" y1="450.4" x2="347.9" y2="447.6" stroke="#7a7a7a" stroke-width="1"/>
<line x1="375.3" y1="450.4" x2="375.3" y2="447.6" stroke="#7a7a7a" stroke-width="1"/>
<line x1="402.7" y1="450.4" x2="402.7" y2="447.6" stroke="#7a7a7a" stroke-width="1"/>
<line x1="46.5" y1="380.9" x2="50" y2="380.9" stroke="#7a7a7a" stroke-width="1"/>
<line x1="46.5" y1="392.48" x2="50" y2="392.48" stroke="#7a7a7a" stroke-width="1"/>
<line x1="46.5" y1="404.07" x2="50" y2="404.07" stroke="#7a7a7a" stroke-width="1"/>
<line x1="46.5" y1="415.65" x2="50" y2="415.65" stroke="#7a7a7a" stroke-width="1"/>
<line x1="46.5" y1="427.23" x2="50" y2="427.23" stroke="#7a7a7a" stroke-width="1"/>
<line x1="46.5" y1="438.82" x2="50" y2="438.82" stroke="#7a7a7a" stroke-width="1"/>
<line x1="46.5" y1="450.4" x2="50" y2="450.4" stroke="#7a7a7a" stroke-width="1"/>
<text x="45.9" y="465.3" text-anchor="middle" font-size="10.1" fill="#262626">0</text>
<text x="73.4" y="465.3" text-anchor="middle" font-size="10.1" fill="#262626">2</text>
<text x="100.9" y="465.3" text-anchor="middle" font-size="10.1" fill="#262626">4</text>
<text x="128.4" y="465.3" text-anchor="middle" font-size="10.1" fill="#262626">6</text>
<text x="155.9" y="465.3" text-anchor="middle" font-size="10.1" fill="#262626">8</text>
<text x="183.4" y="465.3" text-anchor="middle" font-size="10.1" fill="#262626">10</text>
<text x="210.9" y="465.3" text-anchor="middle" font-size="10.1" fill="#262626">12</text>
<text x="238.4" y="465.3" text-anchor="middle" font-size="10.1" fill="#262626">14</text>
<text x="265.9" y="465.3" text-anchor="middle" font-size="10.1" fill="#262626">16</text>
<text x="293.4" y="465.3" text-anchor="middle" font-size="10.1" fill="#262626">18</text>
<text x="320.9" y="465.3" text-anchor="middle" font-size="10.1" fill="#262626">20</text>
<text x="348.4" y="465.3" text-anchor="middle" font-size="10.1" fill="#262626">22</text>
<text x="375.9" y="465.3" text-anchor="middle" font-size="10.1" fill="#262626">24</text>
<text x="403.4" y="465.3" text-anchor="middle" font-size="10.1" fill="#262626">26</text>
<text x="42.2" y="385.8" text-anchor="end" font-size="10.1" fill="#262626">600</text>
<text x="42.2" y="397.38" text-anchor="end" font-size="10.1" fill="#262626">500</text>
<text x="42.2" y="408.97" text-anchor="end" font-size="10.1" fill="#262626">400</text>
<text x="42.2" y="420.55" text-anchor="end" font-size="10.1" fill="#262626">300</text>
<text x="42.2" y="432.13" text-anchor="end" font-size="10.1" fill="#262626">200</text>
<text x="42.2" y="443.72" text-anchor="end" font-size="10.1" fill="#262626">100</text>
<text x="42.2" y="455.3" text-anchor="end" font-size="10.1" fill="#262626">0</text>
<text x="150.3" y="372.9" font-size="12.1" font-weight="bold" fill="#000">Position of the arc on slag</text>
<text transform="translate(18.4,418.9) rotate(-90)" text-anchor="middle" font-size="14.4" fill="#262626">X, <tspan fill="#D95319">Y</tspan> (px)</text>
<path d="M141.53 395.1 L147.41 398.5 L157.67 403.3 L198.16 395.8 L214.72 391.4 L223.75 389.8 L236.19 394.6 L241.39 390.5 L249.6 391.7 L257.81 388.9 L263.96 391.8 L272.58 389.3 L282.02 390.6 L299.4 390.5 L302.41 390.5 L312.12 390.5" fill="none" stroke="#000000" stroke-width="1.45" stroke-linejoin="round"/>
<circle cx="141.53" cy="395.1" r="1.4" fill="#fff" stroke="#000000" stroke-width="1.75"/>
<circle cx="147.41" cy="398.5" r="2.25" fill="#000000"/>
<circle cx="157.67" cy="403.3" r="2.25" fill="#000000"/>
<circle cx="198.16" cy="395.8" r="2.25" fill="#000000"/>
<circle cx="214.72" cy="391.4" r="2.25" fill="#000000"/>
<circle cx="223.75" cy="389.8" r="2.25" fill="#000000"/>
<circle cx="236.19" cy="394.6" r="2.25" fill="#000000"/>
<circle cx="241.39" cy="390.5" r="2.25" fill="#000000"/>
<circle cx="249.6" cy="391.7" r="2.25" fill="#000000"/>
<circle cx="257.81" cy="388.9" r="2.25" fill="#000000"/>
<circle cx="263.96" cy="391.8" r="2.25" fill="#000000"/>
<circle cx="272.58" cy="389.3" r="2.25" fill="#000000"/>
<circle cx="282.02" cy="390.6" r="2.25" fill="#000000"/>
<circle cx="299.4" cy="390.5" r="2.25" fill="#000000"/>
<circle cx="302.41" cy="390.5" r="2.25" fill="#000000"/>
<circle cx="312.12" cy="390.5" r="1.4" fill="#fff" stroke="#000000" stroke-width="1.75"/>
<path d="M141.53 419.6 L147.41 420.3 L157.67 418.5 L198.16 418.5 L214.72 418.5 L223.75 418 L236.19 419.2 L241.39 418 L249.6 418.5 L257.81 418 L263.96 418.5 L272.58 418 L282.02 418 L299.4 418 L302.41 418 L312.12 418" fill="none" stroke="#D95319" stroke-width="1.45" stroke-linejoin="round"/>
<circle cx="141.53" cy="419.6" r="1.4" fill="#fff" stroke="#D95319" stroke-width="1.75"/>
<circle cx="147.41" cy="420.3" r="2.25" fill="#D95319"/>
<circle cx="157.67" cy="418.5" r="2.25" fill="#D95319"/>
<circle cx="198.16" cy="418.5" r="2.25" fill="#D95319"/>
<circle cx="214.72" cy="418.5" r="2.25" fill="#D95319"/>
<circle cx="223.75" cy="418" r="2.25" fill="#D95319"/>
<circle cx="236.19" cy="419.2" r="2.25" fill="#D95319"/>
<circle cx="241.39" cy="418" r="2.25" fill="#D95319"/>
<circle cx="249.6" cy="418.5" r="2.25" fill="#D95319"/>
<circle cx="257.81" cy="418" r="2.25" fill="#D95319"/>
<circle cx="263.96" cy="418.5" r="2.25" fill="#D95319"/>
<circle cx="272.58" cy="418" r="2.25" fill="#D95319"/>
<circle cx="282.02" cy="418" r="2.25" fill="#D95319"/>
<circle cx="299.4" cy="418" r="2.25" fill="#D95319"/>
<circle cx="302.41" cy="418" r="2.25" fill="#D95319"/>
<circle cx="312.12" cy="418" r="1.4" fill="#fff" stroke="#D95319" stroke-width="1.75"/>
<line x1="46.5" y1="502.5" x2="402.7" y2="502.5" stroke="#d6d6d6" stroke-width="1"/>
<line x1="46.5" y1="516.34" x2="402.7" y2="516.34" stroke="#d6d6d6" stroke-width="1"/>
<line x1="46.5" y1="530.18" x2="402.7" y2="530.18" stroke="#d6d6d6" stroke-width="1"/>
<line x1="46.5" y1="544.02" x2="402.7" y2="544.02" stroke="#d6d6d6" stroke-width="1"/>
<line x1="46.5" y1="557.86" x2="402.7" y2="557.86" stroke="#d6d6d6" stroke-width="1"/>
<path d="M46.5 502.5 L46.5 571.7 L402.7 571.7" fill="none" stroke="#7a7a7a" stroke-width="1"/>
<line x1="46.5" y1="571.7" x2="46.5" y2="568.9" stroke="#7a7a7a" stroke-width="1"/>
<line x1="73.9" y1="571.7" x2="73.9" y2="568.9" stroke="#7a7a7a" stroke-width="1"/>
<line x1="101.3" y1="571.7" x2="101.3" y2="568.9" stroke="#7a7a7a" stroke-width="1"/>
<line x1="128.7" y1="571.7" x2="128.7" y2="568.9" stroke="#7a7a7a" stroke-width="1"/>
<line x1="156.1" y1="571.7" x2="156.1" y2="568.9" stroke="#7a7a7a" stroke-width="1"/>
<line x1="183.5" y1="571.7" x2="183.5" y2="568.9" stroke="#7a7a7a" stroke-width="1"/>
<line x1="210.9" y1="571.7" x2="210.9" y2="568.9" stroke="#7a7a7a" stroke-width="1"/>
<line x1="238.3" y1="571.7" x2="238.3" y2="568.9" stroke="#7a7a7a" stroke-width="1"/>
<line x1="265.7" y1="571.7" x2="265.7" y2="568.9" stroke="#7a7a7a" stroke-width="1"/>
<line x1="293.1" y1="571.7" x2="293.1" y2="568.9" stroke="#7a7a7a" stroke-width="1"/>
<line x1="320.5" y1="571.7" x2="320.5" y2="568.9" stroke="#7a7a7a" stroke-width="1"/>
<line x1="347.9" y1="571.7" x2="347.9" y2="568.9" stroke="#7a7a7a" stroke-width="1"/>
<line x1="375.3" y1="571.7" x2="375.3" y2="568.9" stroke="#7a7a7a" stroke-width="1"/>
<line x1="402.7" y1="571.7" x2="402.7" y2="568.9" stroke="#7a7a7a" stroke-width="1"/>
<line x1="46.5" y1="502.5" x2="50" y2="502.5" stroke="#7a7a7a" stroke-width="1"/>
<line x1="46.5" y1="516.34" x2="50" y2="516.34" stroke="#7a7a7a" stroke-width="1"/>
<line x1="46.5" y1="530.18" x2="50" y2="530.18" stroke="#7a7a7a" stroke-width="1"/>
<line x1="46.5" y1="544.02" x2="50" y2="544.02" stroke="#7a7a7a" stroke-width="1"/>
<line x1="46.5" y1="557.86" x2="50" y2="557.86" stroke="#7a7a7a" stroke-width="1"/>
<line x1="46.5" y1="571.7" x2="50" y2="571.7" stroke="#7a7a7a" stroke-width="1"/>
<text x="45.9" y="586.6" text-anchor="middle" font-size="10.1" fill="#262626">0</text>
<text x="73.4" y="586.6" text-anchor="middle" font-size="10.1" fill="#262626">2</text>
<text x="100.9" y="586.6" text-anchor="middle" font-size="10.1" fill="#262626">4</text>
<text x="128.4" y="586.6" text-anchor="middle" font-size="10.1" fill="#262626">6</text>
<text x="155.9" y="586.6" text-anchor="middle" font-size="10.1" fill="#262626">8</text>
<text x="183.4" y="586.6" text-anchor="middle" font-size="10.1" fill="#262626">10</text>
<text x="210.9" y="586.6" text-anchor="middle" font-size="10.1" fill="#262626">12</text>
<text x="238.4" y="586.6" text-anchor="middle" font-size="10.1" fill="#262626">14</text>
<text x="265.9" y="586.6" text-anchor="middle" font-size="10.1" fill="#262626">16</text>
<text x="293.4" y="586.6" text-anchor="middle" font-size="10.1" fill="#262626">18</text>
<text x="320.9" y="586.6" text-anchor="middle" font-size="10.1" fill="#262626">20</text>
<text x="348.4" y="586.6" text-anchor="middle" font-size="10.1" fill="#262626">22</text>
<text x="375.9" y="586.6" text-anchor="middle" font-size="10.1" fill="#262626">24</text>
<text x="403.4" y="586.6" text-anchor="middle" font-size="10.1" fill="#262626">26</text>
<text x="42.2" y="507.4" text-anchor="end" font-size="10.1" fill="#262626">50</text>
<text x="42.2" y="521.24" text-anchor="end" font-size="10.1" fill="#262626">40</text>
<text x="42.2" y="535.08" text-anchor="end" font-size="10.1" fill="#262626">30</text>
<text x="42.2" y="548.92" text-anchor="end" font-size="10.1" fill="#262626">20</text>
<text x="42.2" y="562.76" text-anchor="end" font-size="10.1" fill="#262626">10</text>
<text x="42.2" y="576.6" text-anchor="end" font-size="10.1" fill="#262626">0</text>
<text y="492.8" font-size="12.1" font-weight="bold" fill="#000"><tspan x="120.8">Slag composition Cr</tspan><tspan x="239.1" y="498.4" font-size="10">2</tspan><tspan x="244.4" y="492.8">O</tspan><tspan x="254.1" y="498.4" font-size="10">3</tspan><tspan x="259.1" y="492.8">,</tspan><tspan x="266.8" fill="#D95319">FeO</tspan><tspan x="290.2" fill="#000">,</tspan><tspan x="297.6" fill="#EDB120">CaO</tspan></text>
<text transform="translate(24.3,537.4) rotate(-90)" text-anchor="middle" font-size="14.4" fill="#262626">Molar %</text>
<text x="225.1" y="603.7" text-anchor="middle" font-size="14.1" fill="#262626">Length of the arc (cm)</text>
<path d="M141.53 564.2 L147.41 559.7 L157.67 564.2 L198.16 563.8 L214.72 564.2 L223.75 564.2 L236.19 563.8 L241.39 564.2 L249.6 563.8 L257.81 564.2 L263.96 563.8 L272.58 564.2 L282.02 563.8 L299.4 559.7 L302.41 560.9 L312.12 559.7" fill="none" stroke="#000000" stroke-width="1.45" stroke-linejoin="round"/>
<circle cx="141.53" cy="564.2" r="1.4" fill="#fff" stroke="#000000" stroke-width="1.75"/>
<circle cx="147.41" cy="559.7" r="2.25" fill="#000000"/>
<circle cx="157.67" cy="564.2" r="2.25" fill="#000000"/>
<circle cx="198.16" cy="563.8" r="2.25" fill="#000000"/>
<circle cx="214.72" cy="564.2" r="2.25" fill="#000000"/>
<circle cx="223.75" cy="564.2" r="2.25" fill="#000000"/>
<circle cx="236.19" cy="563.8" r="2.25" fill="#000000"/>
<circle cx="241.39" cy="564.2" r="2.25" fill="#000000"/>
<circle cx="249.6" cy="563.8" r="2.25" fill="#000000"/>
<circle cx="257.81" cy="564.2" r="2.25" fill="#000000"/>
<circle cx="263.96" cy="563.8" r="2.25" fill="#000000"/>
<circle cx="272.58" cy="564.2" r="2.25" fill="#000000"/>
<circle cx="282.02" cy="563.8" r="2.25" fill="#000000"/>
<circle cx="299.4" cy="559.7" r="2.25" fill="#000000"/>
<circle cx="302.41" cy="560.9" r="2.25" fill="#000000"/>
<circle cx="312.12" cy="559.7" r="1.4" fill="#fff" stroke="#000000" stroke-width="1.75"/>
<path d="M141.53 546.7 L147.41 542.2 L157.67 546.3 L198.16 547.2 L214.72 546.3 L223.75 546.3 L236.19 546.3 L241.39 546.3 L249.6 546.3 L257.81 546.3 L263.96 546.7 L272.58 546.3 L282.02 547.2 L299.4 542.2 L302.41 544.5 L312.12 542.7" fill="none" stroke="#EDB120" stroke-width="1.45" stroke-linejoin="round"/>
<circle cx="141.53" cy="546.7" r="1.4" fill="#fff" stroke="#EDB120" stroke-width="1.75"/>
<circle cx="147.41" cy="542.2" r="2.25" fill="#EDB120"/>
<circle cx="157.67" cy="546.3" r="2.25" fill="#EDB120"/>
<circle cx="198.16" cy="547.2" r="2.25" fill="#EDB120"/>
<circle cx="214.72" cy="546.3" r="2.25" fill="#EDB120"/>
<circle cx="223.75" cy="546.3" r="2.25" fill="#EDB120"/>
<circle cx="236.19" cy="546.3" r="2.25" fill="#EDB120"/>
<circle cx="241.39" cy="546.3" r="2.25" fill="#EDB120"/>
<circle cx="249.6" cy="546.3" r="2.25" fill="#EDB120"/>
<circle cx="257.81" cy="546.3" r="2.25" fill="#EDB120"/>
<circle cx="263.96" cy="546.7" r="2.25" fill="#EDB120"/>
<circle cx="272.58" cy="546.3" r="2.25" fill="#EDB120"/>
<circle cx="282.02" cy="547.2" r="2.25" fill="#EDB120"/>
<circle cx="299.4" cy="542.2" r="2.25" fill="#EDB120"/>
<circle cx="302.41" cy="544.5" r="2.25" fill="#EDB120"/>
<circle cx="312.12" cy="542.7" r="1.4" fill="#fff" stroke="#EDB120" stroke-width="1.75"/>
<path d="M141.53 519.4 L147.41 519.4 L157.67 519.4 L198.16 517.2 L214.72 519.4 L223.75 519.4 L236.19 517.9 L241.39 519.4 L249.6 517.9 L257.81 519.4 L263.96 517.2 L272.58 519.4 L282.02 517.2 L299.4 519.4 L302.41 518.3 L312.12 519.4" fill="none" stroke="#D95319" stroke-width="1.45" stroke-linejoin="round"/>
<circle cx="141.53" cy="519.4" r="1.4" fill="#fff" stroke="#D95319" stroke-width="1.75"/>
<circle cx="147.41" cy="519.4" r="2.25" fill="#D95319"/>
<circle cx="157.67" cy="519.4" r="2.25" fill="#D95319"/>
<circle cx="198.16" cy="517.2" r="2.25" fill="#D95319"/>
<circle cx="214.72" cy="519.4" r="2.25" fill="#D95319"/>
<circle cx="223.75" cy="519.4" r="2.25" fill="#D95319"/>
<circle cx="236.19" cy="517.9" r="2.25" fill="#D95319"/>
<circle cx="241.39" cy="519.4" r="2.25" fill="#D95319"/>
<circle cx="249.6" cy="517.9" r="2.25" fill="#D95319"/>
<circle cx="257.81" cy="519.4" r="2.25" fill="#D95319"/>
<circle cx="263.96" cy="517.2" r="2.25" fill="#D95319"/>
<circle cx="272.58" cy="519.4" r="2.25" fill="#D95319"/>
<circle cx="282.02" cy="517.2" r="2.25" fill="#D95319"/>
<circle cx="299.4" cy="519.4" r="2.25" fill="#D95319"/>
<circle cx="302.41" cy="518.3" r="2.25" fill="#D95319"/>
<circle cx="312.12" cy="519.4" r="1.4" fill="#fff" stroke="#D95319" stroke-width="1.75"/>
</g>
</svg>
</body></html>
